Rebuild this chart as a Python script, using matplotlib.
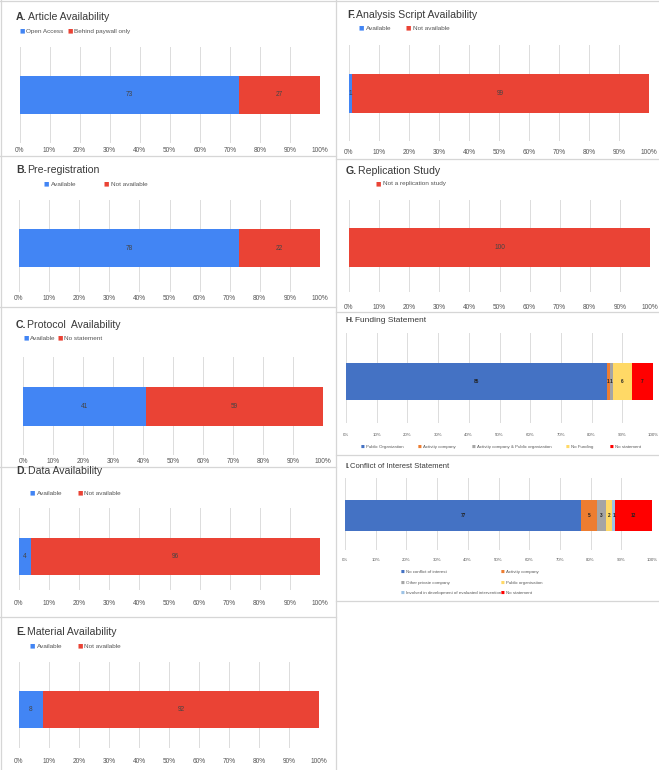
import numpy as np
import matplotlib
matplotlib.use("Agg")
import matplotlib.pyplot as plt
from matplotlib.lines import Line2D

plt.rcParams['font.family'] = ['Liberation Sans', 'DejaVu Sans']

# ---------------- data ----------------
a_labels = ["Open Access", "Behind paywall only"]
a_values = [73, 27]

b_labels = ["Available", "Not available"]
b_values = [73, 27]            # bar widths as drawn
b_texts = ["78", "22"]         # numbers printed in the reference

c_labels = ["Available", "No statement"]
c_values = [41, 59]

d_labels = ["Available", "Not available"]
d_values = [4, 96]

e_labels = ["Available", "Not available"]
e_values = [8, 92]

f_labels = ["Available", "Not available"]
f_values = [1, 99]

g_labels = ["Not a replication study"]
g_values = [100]

h_labels = ["Public Organization", "Activity company",
            "Activity company & Public organization", "No Funding", "No statement"]
h_values = [85, 1, 1, 6, 7]

i_labels = ["No conflict of interest", "Activity company", "Other private company",
            "Public organisation", "Involved in development of evaluated intervention",
            "No statement"]
i_values = [77, 5, 3, 2, 1, 12]

ticks = list(range(0, 101, 10))
tick_labels = [f"{t}%" for t in ticks]

# ---------------- style ----------------
G_BLUE, G_RED = "#4285F4", "#EA4335"
X_COLORS_H = ["#4472C4", "#ED7D31", "#A5A5A5", "#FFD966", "#FF0000"]
X_COLORS_I = ["#4472C4", "#ED7D31", "#A5A5A5", "#FFD966", "#9DC3E6", "#FF0000"]

W, H = 659, 770
fig = plt.figure(figsize=(W / 100, H / 100), dpi=100)
fig.patch.set_facecolor("white")
renderer = fig.canvas.get_renderer()


def fx(x):
    return x / W


def fy(y):
    return 1 - y / H


def title(x, y, letter, rest, size, color="#3a3a3a"):
    t = fig.text(fx(x), fy(y), letter, fontsize=size, fontweight="bold",
                 color=color, va="center", ha="left")
    bb = t.get_window_extent(renderer=renderer)
    fig.text(bb.x1 / W + 0.0015, fy(y), rest, fontsize=size, color=color,
             va="center", ha="left")


def legend(items, xs, ys, colors, size, tcolor="#555555", msize=None, gap=1.5):
    if msize is None:
        msize = size * 0.9
    for lab, x, y, c in zip(items, xs, ys, colors):
        m = fig.text(fx(x), fy(y), "■", fontsize=msize, color=c, va="center",
                     ha="left", family="DejaVu Sans")
        bb = m.get_window_extent(renderer=renderer)
        fig.text((bb.x1 + gap) / W, fy(y), lab, fontsize=size, color=tcolor,
                 va="center", ha="left")


def panel(values, colors, x0, x1, gy0, gy1, bt, bb, texts=None, tsize=4.7,
          lsize=4.7, lcolor="#444444", tcolor="#555555", pad=2.0, bold_labels=False):
    ax = fig.add_axes([fx(x0), fy(gy1), (x1 - x0) / W, (gy1 - gy0) / H])
    span = gy1 - gy0
    center = (gy1 - (bt + bb) / 2) / span
    height = (bb - bt) / span
    lefts = np.concatenate([[0], np.cumsum(values)[:-1]])
    containers = []
    for v, l, c in zip(values, lefts, colors):
        containers.append(ax.barh([center], [v], left=[l], height=height,
                                  color=c, zorder=3))
    if texts is None:
        texts = [str(v) for v in values]
    for cont, t in zip(containers, texts):
        ax.bar_label(cont, labels=[t], label_type="center", fontsize=lsize,
                     color=lcolor, fontweight="bold" if bold_labels else "normal")
    ax.set_xlim(0, 100)
    ax.set_ylim(0, 1)
    ax.set_xticks(ticks)
    ax.set_xticklabels(tick_labels, fontsize=tsize, color=tcolor)
    ax.set_yticks([])
    ax.tick_params(axis="x", length=0, pad=pad)
    ax.grid(axis="x", color="#dcdcdc", lw=0.7, zorder=0)
    for s in ax.spines.values():
        s.set_visible(False)
    ax.patch.set_alpha(0)
    return ax


# ---------------- left column ----------------
TS = 7.6
title(16, 17, "A.", "Article Availability", TS)
legend(a_labels, [19, 67], [31, 31], [G_BLUE, G_RED], 4.6)
panel(a_values, [G_BLUE, G_RED], 19.5, 320, 47, 143, 76, 114, pad=3.0)

title(16, 170, "B.", "Pre-registration", TS)
legend(b_labels, [44, 104], [184, 184], [G_BLUE, G_RED], 4.6)
panel(b_values, [G_BLUE, G_RED], 19, 320, 200, 292, 229, 267, texts=b_texts,
      pad=2.5)

title(16, 325, "C.", "Protocol  Availability", TS)
legend(c_labels, [23, 57], [338, 338], [G_BLUE, G_RED], 4.6)
panel(c_values, [G_BLUE, G_RED], 23, 323, 357, 455, 387, 426)

title(16, 471, "D.", "Data Availability", TS)
legend(d_labels, [30, 77], [493, 493], [G_BLUE, G_RED], 4.6)
panel(d_values, [G_BLUE, G_RED], 19, 320, 508, 590, 538, 575, pad=7.0)

title(16, 632, "E.", "Material Availability", TS)
legend(e_labels, [30, 77], [646, 646], [G_BLUE, G_RED], 4.6)
panel(e_values, [G_BLUE, G_RED], 19, 319, 662, 748, 691, 728, pad=7.5)

# ---------------- right column ----------------
title(347, 15, "F.", "Analysis Script Availability", TS)
legend(f_labels, [359, 406], [28, 28], [G_BLUE, G_RED], 4.6)
panel(f_values, [G_BLUE, G_RED], 349, 649, 45, 141, 74, 113, pad=5.5)

title(346, 171, "G.", "Replication Study", TS)
legend(g_labels, [376], [184], [G_RED], 4.6)
panel(g_values, [G_RED], 349, 650, 200, 292, 228, 267, pad=8.5)

title(346, 321, "H.", "Funding Statement", 6.0)
legend(h_labels, [361, 418, 472, 566, 610], [447] * 5, X_COLORS_H, 3.2,
       tcolor="#595959", gap=1.2)
panel(h_values, X_COLORS_H, 346, 653, 333, 423, 363, 400, tsize=3.2,
      lsize=3.4, lcolor="#222222", tcolor="#595959", pad=7.5, bold_labels=True)

title(345, 466, "I.", "Conflict of Interest Statement", 5.5)
legend(i_labels, [401, 501, 401, 501, 401, 501],
       [572, 572, 583, 583, 593, 593], X_COLORS_I, 3.2, tcolor="#595959",
       gap=1.2)
panel(i_values, X_COLORS_I, 345, 652, 478, 550, 500, 531, tsize=3.2,
      lsize=3.4, lcolor="#222222", tcolor="#595959", pad=5.5, bold_labels=True)

# ---------------- panel borders ----------------
BC = "#d6d6d6"


def hline(y, x0, x1):
    fig.add_artist(Line2D([fx(x0), fx(x1)], [fy(y), fy(y)], color=BC, lw=0.9,
                          transform=fig.transFigure))


def vline(x, y0, y1):
    fig.add_artist(Line2D([fx(x), fx(x)], [fy(y0), fy(y1)], color=BC, lw=0.9,
                          transform=fig.transFigure))


vline(336, 0, 770)
vline(1, 0, 770)
for y in [156, 307, 467, 617]:
    hline(y, 0, 336)
for y in [159, 312, 455, 601]:
    hline(y, 336, 659)
hline(1, 0, 659)

fig.savefig("out.png", dpi=100, facecolor="white")
